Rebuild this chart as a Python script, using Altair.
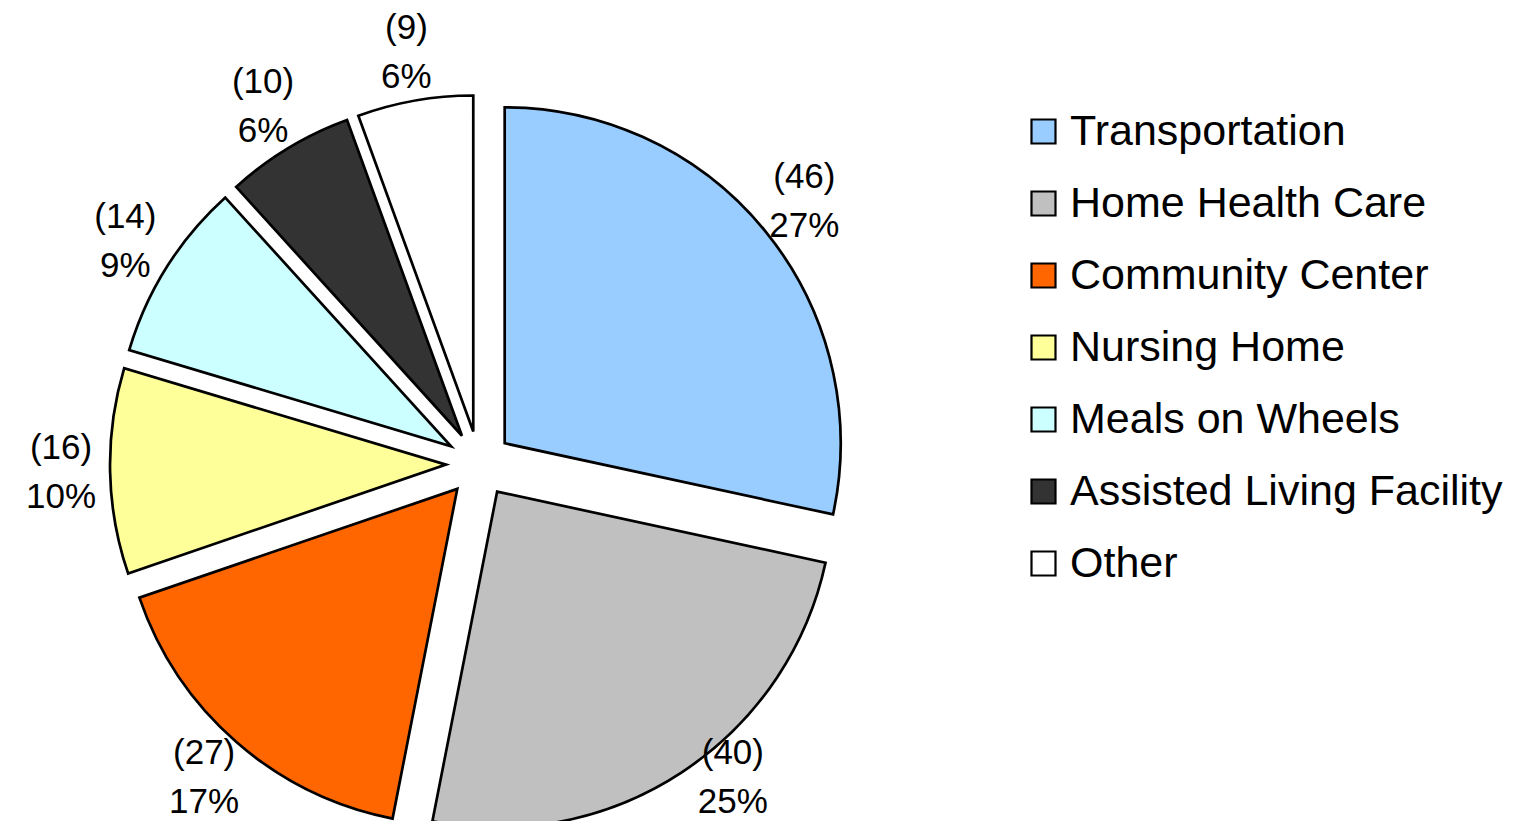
import altair as alt
import pandas as pd

categories = ["Transportation", "Home Health Care", "Community Center", "Nursing Home",
              "Meals on Wheels", "Assisted Living Facility", "Other"]
counts = [46, 40, 27, 16, 14, 10, 9]
pct_labels = ["27%", "25%", "17%", "10%", "9%", "6%", "6%"]
colors = ["#99CCFF", "#C0C0C0", "#FF6600", "#FFFF99", "#CCFFFF", "#333333", "#FFFFFF"]

df = pd.DataFrame({
    "category": categories,
    "count": counts,
    "pct": pct_labels,
    "idx": list(range(len(categories))),
})
df["label"] = ["(" + str(c) + ")\n" + p for c, p in zip(counts, pct_labels)]

CX, CY = 466, 451
R = 336
EXPLODE = 33
LR = 418      # label radius
LIM = 764     # lowest label centre allowed (fit inside chart)
LR2 = 403     # radius used when sliding a label up to fit
FONT = "Liberation Sans"
LSIZE = 35
LH = 49

base = alt.Chart(df).transform_joinaggregate(
    total="sum(count)"
).transform_window(
    cum="sum(count)", sort=[alt.SortField("idx", order="ascending")], frame=[None, 0]
).transform_calculate(
    mid="(datum.cum - datum.count/2) / datum.total * 2 * PI",
).transform_calculate(
    dx=f"{EXPLODE} * sin(datum.mid)",
    dy=f"-{EXPLODE} * cos(datum.mid)",
    rawx=f"{CX} + {LR} * sin(datum.mid)",
    rawy=f"{CY} - {LR} * cos(datum.mid)",
).transform_calculate(
    ly=f"min(datum.rawy, {LIM})",
    lx=(f"datum.rawy > {LIM} + 15 ? {CX} + (sin(datum.mid) >= 0 ? 1 : -1) * "
        f"sqrt(max(0, {LR2}*{LR2} - ({LIM}-{CY})*({LIM}-{CY}))) : datum.rawx"),
)

pie = base.mark_arc(
    outerRadius=R, stroke="black", strokeWidth=2.7, strokeJoin="miter",
    xOffset={"expr": "datum.dx"}, yOffset={"expr": "datum.dy"},
).encode(
    theta=alt.Theta("count:Q", stack=True),
    order=alt.Order("idx:Q"),
    x=alt.value(CX),
    y=alt.value(CY),
    color=alt.Color(
        "category:N",
        scale=alt.Scale(domain=categories, range=colors),
        sort=categories,
        legend=alt.Legend(
            title=None, orient="none", legendX=1009, legendY=97,
            symbolType="square", symbolSize=576, symbolStrokeColor="black",
            symbolStrokeWidth=2.2, symbolOpacity=1,
            labelFont=FONT, labelFontSize=43, labelColor="black",
            labelOffset=5, rowPadding=28, padding=0, labelLimit=600,
        ),
    ),
)

labels = base.mark_text(
    font=FONT, fontSize=LSIZE, color="black",
    lineBreak="\n", lineHeight=LH, align="center", baseline="middle", dy=-LH / 2,
).encode(
    x=alt.X("lx:Q", scale=None, axis=None),
    y=alt.Y("ly:Q", scale=None, axis=None),
    text="label:N",
)

chart = alt.layer(pie, labels).properties(
    width=1500, height=808,
    padding={"top": 5, "bottom": 0, "left": 5, "right": 5},
    autosize=alt.AutoSizeParams(type="none"),
).configure_view(stroke=None)

chart.save("out.html", embed_options={"renderer": "svg", "actions": False})
